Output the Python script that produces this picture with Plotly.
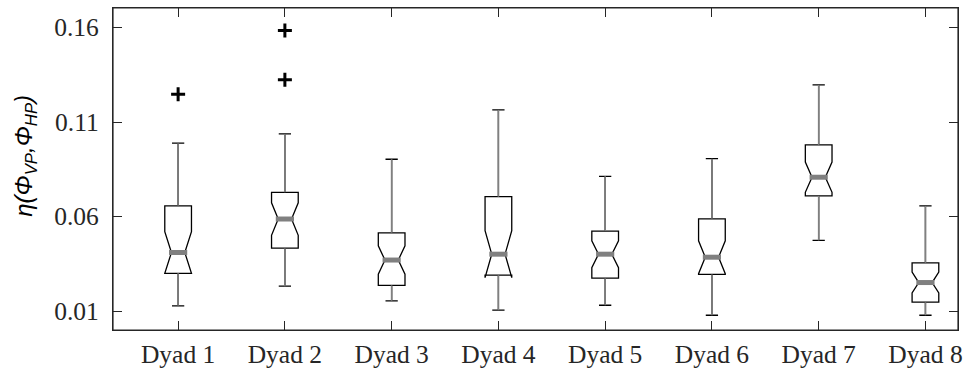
import plotly.graph_objects as go

# ---- data ----
categories = ["Dyad 1", "Dyad 2", "Dyad 3", "Dyad 4", "Dyad 5", "Dyad 6", "Dyad 7", "Dyad 8"]
positions = [1, 2, 3, 4, 5, 6, 7, 8]
lower_whisker = [0.0128, 0.0232, 0.0154, 0.0105, 0.0131, 0.0078, 0.0474, 0.0078]
q1_values = [0.0300, 0.0433, 0.0236, 0.0290, 0.0274, 0.0294, 0.0709, 0.0147]
medians = [0.0410, 0.0587, 0.0370, 0.0401, 0.0401, 0.0385, 0.0808, 0.0251]
q3_values = [0.0657, 0.0728, 0.0514, 0.0705, 0.0523, 0.0588, 0.0979, 0.0355]
upper_whisker = [0.0988, 0.1037, 0.0903, 0.1164, 0.0813, 0.0906, 0.1296, 0.0656]
notch_spans = [0.0110, 0.0086, 0.0075, 0.0124, 0.0071, 0.0087, 0.0080, 0.0055]
outlier_x = [1, 2, 2]
outlier_y = [0.1247, 0.1584, 0.1323]
y_ticks = [0.01, 0.06, 0.11, 0.16]
y_tick_labels = ["0.01", "0.06", "0.11", "0.16"]

AX = "#262626"
GRAY = "#808080"
X_RANGE = [0.39, 8.305]
Y_RANGE = [0.0, 0.1703]

fig = go.Figure()

# boxes with black outline and black caps
fig.add_trace(go.Box(
    x=positions, q1=q1_values, median=medians, q3=q3_values,
    lowerfence=lower_whisker, upperfence=upper_whisker,
    notched=True, notchspan=notch_spans, notchwidth=0.25,
    width=0.25, whiskerwidth=0.46,
    fillcolor="white", line=dict(color="black", width=1.3),
    boxpoints=False, showlegend=False, hoverinfo="skip",
))

# gray whisker stems over the black ones
wx, wy = [], []
for p, lw, a, b, uw in zip(positions, lower_whisker, q1_values, q3_values, upper_whisker):
    wx += [p, p, None, p, p, None]
    wy += [lw, a, None, b, uw, None]
fig.add_trace(go.Scatter(x=wx, y=wy, mode="lines",
                         line=dict(color=GRAY, width=1.6),
                         showlegend=False, hoverinfo="skip"))

# gray median bars
fig.add_trace(go.Scatter(x=positions, y=medians, mode="markers",
                         marker=dict(symbol="line-ew", size=13,
                                     line=dict(color=GRAY, width=5)),
                         showlegend=False, hoverinfo="skip"))

# outliers
fig.add_trace(go.Scatter(x=outlier_x, y=outlier_y, mode="markers",
                         marker=dict(symbol="cross-thin", size=10,
                                     line=dict(color="black", width=3)),
                         showlegend=False, hoverinfo="skip"))

# empty traces so the mirrored (top / right) axes are rendered
fig.add_trace(go.Scatter(x=[], y=[], xaxis="x2", yaxis="y2", showlegend=False,
                         hoverinfo="skip"))

axis_common = dict(showline=True, linecolor=AX, linewidth=1.2,
                   ticks="inside", ticklen=9, tickcolor=AX, tickwidth=1.2,
                   showgrid=False, zeroline=False, automargin=False,
                   tickfont=dict(family="Liberation Serif", size=25.5, color=AX))

fig.update_layout(
    width=977, height=373,
    margin=dict(l=113, r=19, t=8, b=43),
    paper_bgcolor="white", plot_bgcolor="white",
    xaxis=dict(range=X_RANGE, tickvals=positions, ticktext=categories,
               ticklabelstandoff=1, **axis_common),
    yaxis=dict(range=Y_RANGE, tickvals=y_ticks, ticktext=y_tick_labels,
               ticklabelstandoff=8, **axis_common),
    xaxis2=dict(range=X_RANGE, tickvals=positions, showticklabels=False,
                overlaying="x", side="top", anchor="y2", **axis_common),
    yaxis2=dict(range=Y_RANGE, tickvals=y_ticks, showticklabels=False,
                overlaying="y", side="right", anchor="x2", **axis_common),
    shapes=[dict(type="rect", xref="paper", yref="paper", x0=0, x1=1, y0=0, y1=1,
                 line=dict(color=AX, width=1.2), layer="above")],
    annotations=[dict(
        text="<i>η(Φ<sub>VP</sub>,Φ<sub>HP</sub>)</i>",
        xref="paper", yref="paper", x=-0.103, y=0.541,
        xanchor="center", yanchor="middle", textangle=-90, showarrow=False,
        font=dict(family="Liberation Sans", size=24, color="black"),
    )],
)

fig.write_html("out.html", config={"displayModeBar": False, "responsive": False},
               post_script="document.body.style.margin='0';")
